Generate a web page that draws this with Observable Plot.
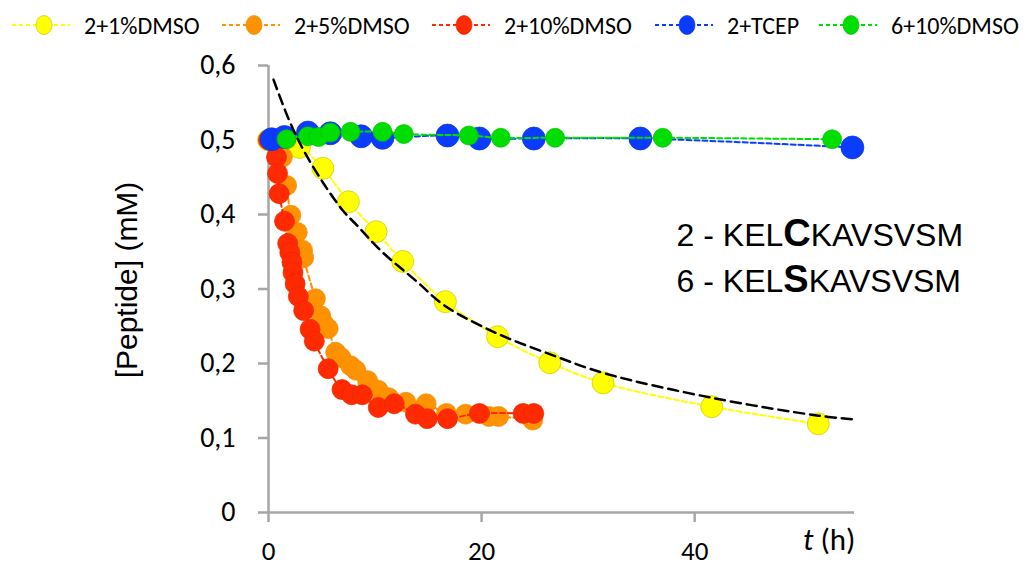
<!DOCTYPE html>
<html><head><meta charset="utf-8">
<script src="https://cdn.jsdelivr.net/npm/d3@7"></script>
<script src="https://cdn.jsdelivr.net/npm/@observablehq/plot@0.6"></script>
<style>
html,body{margin:0;padding:0;background:#fff;}
#wrap{position:relative;width:1025px;height:567px;overflow:hidden;}
#legend{position:absolute;left:0;top:0;width:1025px;height:50px;font-family:Carlito,Lato,"Liberation Sans",sans-serif;font-size:24px;}
.li{position:absolute;top:10px;height:30px;display:flex;align-items:center;white-space:nowrap;}
.li svg{margin-right:14px;}
</style></head>
<body><div id="wrap"><div id="legend"></div><div id="chart"></div></div>
<script>
const seriesNames = ["2+1%DMSO","2+5%DMSO","2+10%DMSO","2+TCEP","6+10%DMSO"];
const seriesColors = ["#ffff00","#ff9200","#ff2a00","#0a3cff","#00dd00"];

const yellowT = [0, 2.9, 5.1, 7.5, 10.1, 12.6, 16.6, 21.5, 26.4, 31.4, 41.6, 51.6];
const yellowC = [0.5, 0.49, 0.462, 0.417, 0.377, 0.337, 0.283, 0.236, 0.201, 0.174, 0.142, 0.119];

const orangeT = [0, 1.3, 1.7, 2.1, 2.7, 3.2, 3.3, 4.4, 4.9, 5.1, 5.6, 6.3, 6.8, 7.7, 8.2, 9.3, 10.3, 11.3, 12.9, 14.8, 16.7, 18.5, 20.7, 21.6, 24.8];
const orangeC = [0.5, 0.477, 0.439, 0.399, 0.376, 0.352, 0.342, 0.287, 0.264, 0.255, 0.247, 0.215, 0.208, 0.197, 0.191, 0.177, 0.164, 0.154, 0.148, 0.146, 0.133, 0.132, 0.129, 0.129, 0.124];

const redT = [0, 0.75, 0.85, 1.0, 1.5, 1.8, 2.0, 2.2, 2.3, 2.5, 2.8, 3.3, 3.9, 4.3, 5.6, 6.9, 7.8, 8.8, 10.3, 11.8, 13.8, 14.9, 16.8, 19.8, 23.9, 24.9];
const redC = [0.5, 0.477, 0.455, 0.428, 0.391, 0.361, 0.349, 0.336, 0.322, 0.307, 0.29, 0.271, 0.246, 0.23, 0.193, 0.165, 0.158, 0.158, 0.141, 0.146, 0.132, 0.126, 0.126, 0.133, 0.133, 0.133];

const blueT = [0.3, 1.5, 3.7, 5.8, 8.7, 10.7, 16.8, 19.8, 24.9, 34.9, 54.8];
const blueC = [0.501, 0.504, 0.51, 0.509, 0.505, 0.503, 0.506, 0.502, 0.502, 0.502, 0.49];

const greenT = [1.7, 3.7, 4.7, 5.8, 7.7, 10.7, 12.7, 18.8, 21.8, 26.9, 37.0, 52.9];
const greenC = [0.501, 0.505, 0.504, 0.51, 0.511, 0.511, 0.508, 0.506, 0.503, 0.503, 0.503, 0.501];

const fitT = [0.47, 1.98, 3.3, 5.2, 7.0, 8.4, 10.5, 14.0, 16.5, 21.5, 26.7, 31.5, 41.6, 51.6, 55.0];
const fitC = [0.581, 0.525, 0.486, 0.441, 0.405, 0.384, 0.352, 0.309, 0.278, 0.240, 0.211, 0.187, 0.154, 0.130, 0.125];

const yTicks = [0, 0.1, 0.2, 0.3, 0.4, 0.5, 0.6];
const xTicks = [0, 20, 40];
const yLabel = "[Peptide] (mM)";
const xLabelParts = ["t", " (h)"];
const annoLines = [
  {pre: "2 - KEL", bold: "C", post: "KAVSVSM"},
  {pre: "6 - KEL", bold: "S", post: "KAVSVSM"}
];

const zip = (T, C) => T.map((t, i) => ({t, c: C[i]}));
const series = [zip(yellowT, yellowC), zip(orangeT, orangeC), zip(redT, redC), zip(blueT, blueC), zip(greenT, greenC)];
const radii = [11, 10, 10, 11.5, 9.5];
const dotStroke = ["#c9c900", "#f08a00", "#e82600", "#0a34e0", "#00c400"];
const fit = zip(fitT, fitC);

const marks = [];
const axisColor = "#a6a6a6";
marks.push(Plot.ruleX([0], {stroke: axisColor, strokeWidth: 2.5}));
marks.push(Plot.ruleY([0], {stroke: axisColor, strokeWidth: 2.5}));
marks.push(Plot.axisY({ticks: yTicks, tickSize: 10, tickPadding: 23, stroke: axisColor, strokeWidth: 2.5, fontSize: 28,
  tickFormat: d => d === 0 ? "0" : d.toFixed(1).replace(".", ","), label: null}));
marks.push(Plot.axisX({ticks: xTicks, tickSize: 10, tickPadding: 18, stroke: axisColor, strokeWidth: 2.5, fontSize: 27, label: null}));
series.forEach((s, i) => {
  marks.push(Plot.line(s, {x: "t", y: "c", stroke: seriesColors[i], strokeWidth: 2, strokeDasharray: "5,3", curve: "catmull-rom"}));
  marks.push(Plot.dot(s, {x: "t", y: "c", r: radii[i], fill: seriesColors[i], stroke: dotStroke[i], strokeWidth: 0.7}));
});
marks.push(Plot.line(fit, {x: "t", y: "c", stroke: "#000", strokeWidth: 2.5, strokeDasharray: "10,6", curve: "catmull-rom"}));
marks.push(Plot.text(annoLines, {x: 38.3, y: (d, i) => [0.371, 0.310][i], text: d => d.pre + d.bold + d.post,
  textAnchor: "start", fontSize: 32, fill: "#000", className: "anno", fontFamily: "Liberation Sans, Arial, sans-serif"}));
marks.push(Plot.text([xLabelParts.join("")], {frameAnchor: "bottom-right", dx: 1, dy: 37, textAnchor: "end",
  fontSize: 31, className: "xlab", fill: "#000"}));
marks.push(Plot.text([yLabel], {frameAnchor: "left", textAnchor: "middle", dx: -141, dy: -9, rotate: -90, fontSize: 30, fill: "#000",
  fontFamily: "Liberation Sans, Arial, sans-serif", className: "ylab"}));

const chart = Plot.plot({
  width: 1025, height: 567,
  marginLeft: 268, marginRight: 171, marginTop: 65, marginBottom: 55,
  x: {domain: [0, 55]},
  y: {domain: [0, 0.6]},
  style: {fontFamily: "Carlito, Lato, sans-serif", fontSize: "28px", color: "#000", background: "#fff", overflow: "visible"},
  marks
});
document.getElementById("chart").appendChild(chart);

// rich text for annotation lines (bold residue)
d3.select(chart).selectAll("g.anno text").each(function(_, i) {
  const d = annoLines[i];
  const el = d3.select(this);
  el.text(null);
  el.append("tspan").text(d.pre);
  el.append("tspan").attr("font-weight", "bold").attr("font-size", 38).text(d.bold);
  el.append("tspan").text(d.post);
});
d3.select(chart).selectAll("g.xlab text").each(function() {
  const el = d3.select(this);
  el.text(null);
  el.append("tspan").attr("font-style", "italic").text(xLabelParts[0]);
  el.append("tspan").text(xLabelParts[1]);
});

// legend
const legendLeft = [12, 222, 432, 655, 819];
const lg = d3.select("#legend");
seriesNames.forEach((name, i) => {
  const item = lg.append("div").attr("class", "li").style("left", legendLeft[i] + "px");
  const s = item.append("svg").attr("width", 58).attr("height", 30);
  s.append("line").attr("x1", 0).attr("x2", 58).attr("y1", 15).attr("y2", 15)
    .attr("stroke", seriesColors[i]).attr("stroke-width", 2).attr("stroke-dasharray", "4,3");
  s.append("ellipse").attr("cx", 32).attr("cy", 15).attr("rx", 8).attr("ry", 9.5)
    .attr("fill", seriesColors[i]).attr("stroke", dotStroke[i]).attr("stroke-width", 0.7);
  item.append("span").text(name);
});
</script></body></html>
